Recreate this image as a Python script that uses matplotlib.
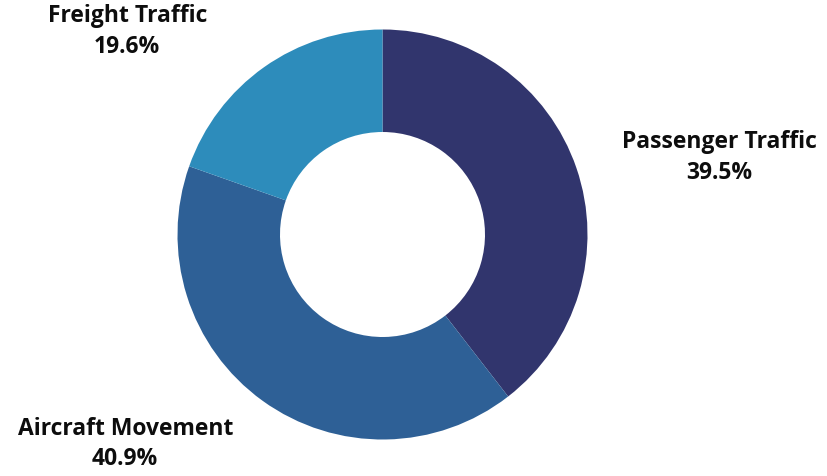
import matplotlib.pyplot as plt

categories = ["Passenger Traffic", "Aircraft Movement", "Freight Traffic"]
shares = [39.5, 40.9, 19.6]
colors = ["#31356d", "#2e6096", "#2d8cbb"]

# label anchors in axes data units (pie radius = 1)
label_pos = [(1.645, 0.38), (-1.255, -1.017), (-1.245, 0.995)]

plt.rcParams["font.family"] = ["Open Sans", "DejaVu Sans"]

W, H = 827, 477
fig = plt.figure(figsize=(W / 100, H / 100), dpi=100)
cx, cy, r = 382.5, 235.5, 205
ax = fig.add_axes([(cx - r) / W, (H - cy - r) / H, 2 * r / W, 2 * r / H])

ax.pie(shares, colors=colors, startangle=90, counterclock=False,
       radius=1, wedgeprops=dict(width=0.5, linewidth=0))
ax.set_xlim(-1, 1)
ax.set_ylim(-1, 1)
ax.set_aspect("equal")
ax.axis("off")

for name, val, (x, y) in zip(categories, shares, label_pos):
    ax.text(x, y, f"{name}\n{val}%", ha="center", va="center",
            fontsize=16.5, fontweight="bold", color="#0d0d0d",
            linespacing=1.37, clip_on=False)

fig.savefig("out.png", dpi=100)
